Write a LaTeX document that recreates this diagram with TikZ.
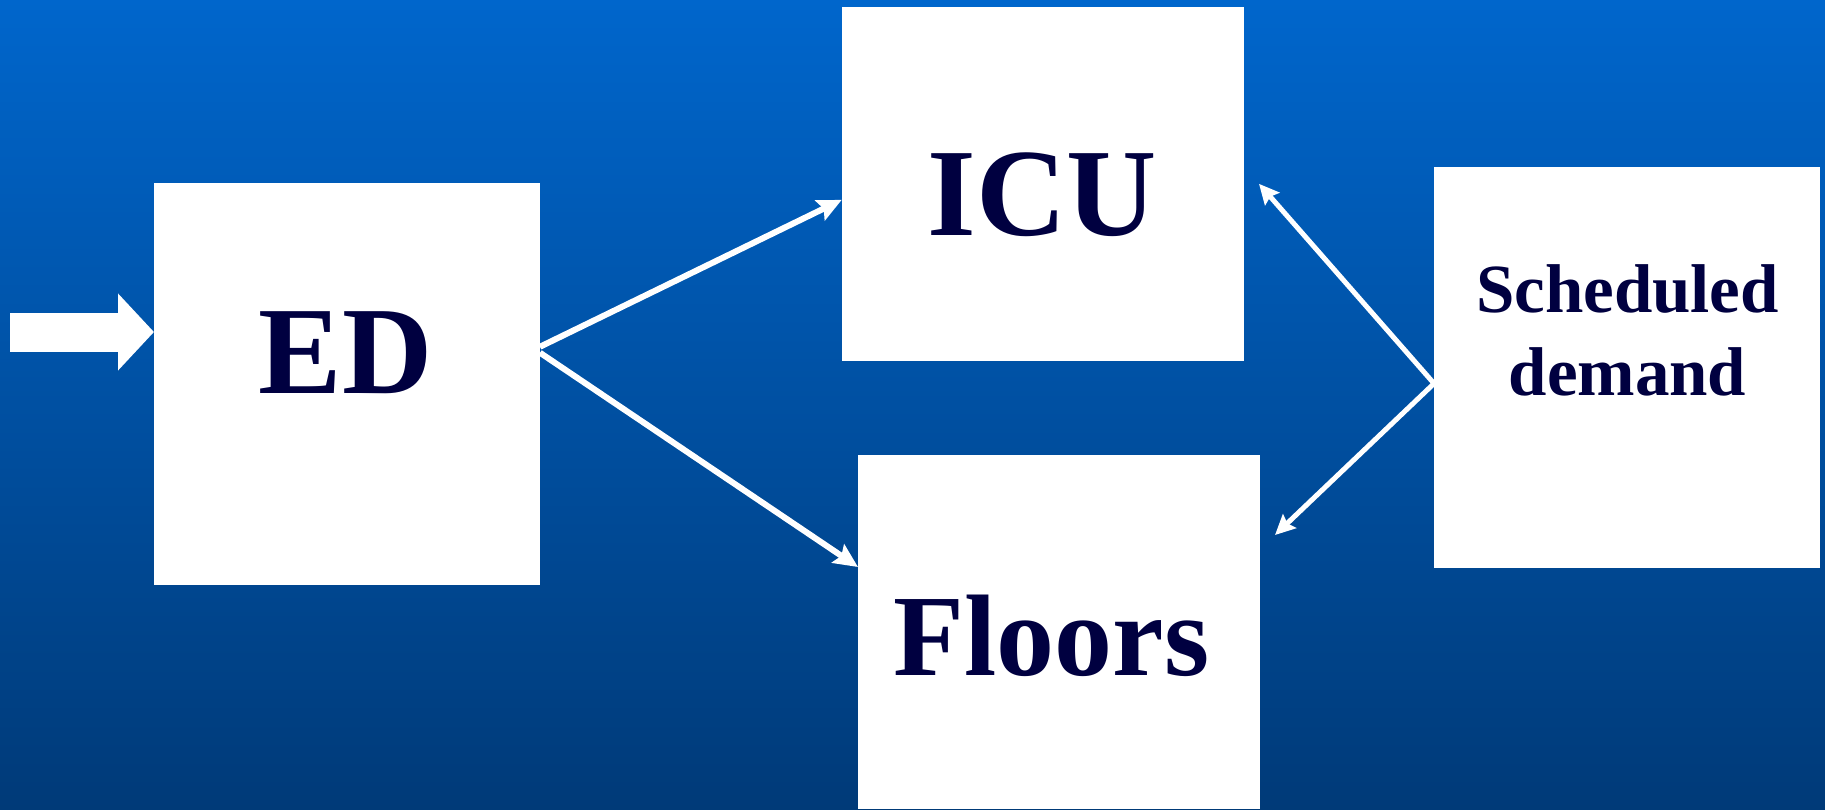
\documentclass[tikz,border=0pt]{standalone}
\usepackage{fontspec}
\setmainfont{Liberation Serif}
\usetikzlibrary{arrows.meta}
\definecolor{bgtop}{RGB}{0,102,204}
\definecolor{bgbot}{RGB}{0,58,120}
\definecolor{ink}{RGB}{0,0,64}

\begin{document}
\begin{tikzpicture}[
    x=1pt, y=-1pt,
    >=Stealth,
    box/.style={fill=white, inner sep=0pt, outer sep=0pt},
    lbl/.style={anchor=base, text=ink, font=\bfseries\fontsize{125}{125}\selectfont},
    flow/.style={draw=white, line width=6pt, -{Stealth[length=24pt, width=22pt, inset=4pt]}},
    back/.style={draw=white, line width=5pt, -{Stealth[length=20pt, width=19pt, inset=3pt]}},
]

% === Background ===
\shade[top color=bgtop, bottom color=bgbot] (0,0) rectangle (1825,809);
\useasboundingbox (0,0) rectangle (1825,809);

% === Units ===
\node[box, minimum width=386pt, minimum height=401.5pt] (ed) at (347,383.75) {};
\node[box, minimum width=402.3pt, minimum height=353.7pt] (icu) at (1042.85,183.85) {};
\node[box, minimum width=402pt, minimum height=354pt] (floors) at (1059,632) {};
\node[box, minimum width=386pt, minimum height=401.6pt] (sched) at (1627,367.5) {};

% === Labels ===
\node[lbl] (edtxt) at (345.6,393) {ED};
\node[lbl] (icutxt) at (1042.5,235) {ICU};
\node[lbl, font=\bfseries\fontsize{116}{116}\selectfont] (floorstxt) at (1051.5,675) {Floors};
\node[lbl, align=center, font=\bfseries\fontsize{69}{83}\selectfont] (schedtxt) at (1627.5,395) {Scheduled\\demand};

% === Arrivals ===
\coordinate (src) at (10,332);
\draw[draw=white, line width=39pt, -{Triangle[length=36pt, width=75pt]}] (src) -- (src -| ed.west);

% === Patient flows ===
\draw[flow] ([yshift=37pt]ed.east) -- ([yshift=-16pt]icu.west);
\draw[flow] ([yshift=31pt]ed.east) -- ([yshift=-112pt]floors.north west);
\draw[back] ([yshift=-16pt]sched.west) -- ([xshift=15pt]icu.east);
\draw[back] ([yshift=-16pt]sched.west) -- ([xshift=15pt, yshift=-80pt]floors.north east);

\end{tikzpicture}
\end{document}
